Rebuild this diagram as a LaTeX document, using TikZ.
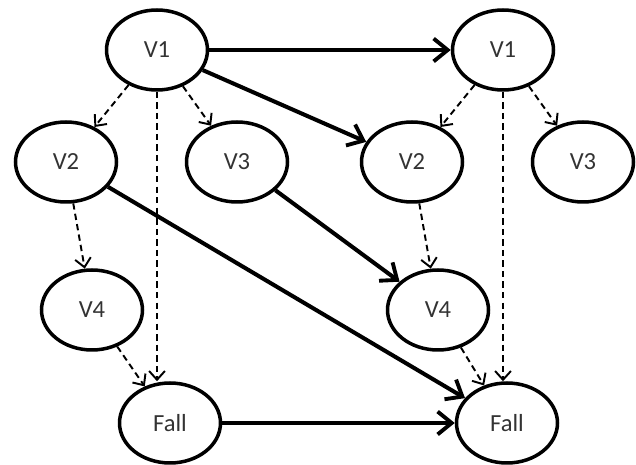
\documentclass[tikz,border=0pt]{standalone}
\usepackage{fontspec}
\setmainfont{Carlito}
\usetikzlibrary{arrows.meta,shapes.geometric}
\begin{document}
\begin{tikzpicture}[x=0.02cm,y=-0.02cm,
  state/.style={draw, ellipse, line width=2pt, minimum width=2.02cm, minimum height=1.6cm,
    inner sep=0pt, font=\fontsize{14}{16}\selectfont, text=black!80},
  causal/.style={line width=2.3pt, -{Straight Barb[length=8pt,width=13pt,line width=2.2pt]}},
  weak/.style={line width=1.1pt, dash pattern=on 3.6pt off 2.4pt,
    -{Straight Barb[length=5pt,width=9pt,line width=1.1pt]}}]
\useasboundingbox (0,0) rectangle (636,465);
% time slice t
\node[state] (V1a) at (157,50) {V1};
\node[state] (V2a) at (66,162) {V2};
\node[state] (V3a) at (237,162) {V3};
\node[state] (V4a) at (92,310) {V4};
\node[state] (Fa) at (170,423) {Fall};
% time slice t+1
\node[state] (V1b) at (503,50) {V1};
\node[state] (V2b) at (412,162) {V2};
\node[state] (V3b) at (583,162) {V3};
\node[state] (V4b) at (438,310) {V4};
\node[state] (Fb) at (507,423) {Fall};
% dependencies within a slice
\draw[weak] (V1a) -- (V2a);
\draw[weak] (V1a) -- (V3a);
\draw[weak] (V1a.south) -- (V1a.south |- Fa.north);
\draw[weak] (V2a) -- (V4a);
\draw[weak] (V4a) -- (Fa);
\draw[weak] (V1b) -- (V2b);
\draw[weak] (V1b) -- (V3b);
\draw[weak] (V1b.south) -- (V1b.south |- Fb.north);
\draw[weak] (V2b) -- (V4b);
\draw[weak] (V4b) -- (Fb);
% dependencies across slices
\draw[causal] (V1a) -- (V1b);
\draw[causal] (V1a) -- (V2b);
\draw[causal] (V2a) -- (Fb);
\draw[causal] (V3a) -- (V4b);
\draw[causal] (Fa) -- (Fb);
\end{tikzpicture}
\end{document}
